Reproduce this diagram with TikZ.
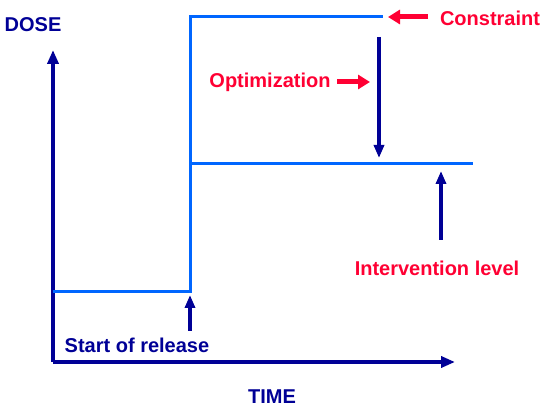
\documentclass[tikz,border=0pt]{standalone}
\usepackage{fontspec}
\setmainfont{Liberation Sans}
\usetikzlibrary{arrows.meta}
\definecolor{navy}{RGB}{0,0,150}
\definecolor{lightblue}{RGB}{0,102,255}
\definecolor{alarm}{RGB}{255,0,51}
\begin{document}
\begin{tikzpicture}[
    x=1pt, y=-1pt,
    lbl/.style={font=\fontsize{20}{22}\selectfont\bfseries, inner sep=0pt},
    axis/.style={navy, line width=4pt, -{Triangle[length=14pt, width=11pt]}},
    level/.style={lightblue, line width=3pt},
    marker/.style={navy, line width=3.5pt, -{Triangle[length=13pt, width=10pt]}},
    pointer/.style={alarm, line width=5pt, -{Triangle[length=12pt, width=14pt]}}
]
    \useasboundingbox (0,0) rectangle (541,411);

    % Axes
    \coordinate (origin) at (53,362);
    \coordinate (ytip) at (53,50);
    \coordinate (xtip) at (455,362);
    \draw[axis] (origin) -- (ytip);
    \draw[axis] (origin) -- (xtip);
    \node[lbl, navy] (dose) at (33,25) {DOSE};
    \node[lbl, navy] (time) at (272,397) {TIME};

    % Dose levels
    \coordinate (pre) at (53,292);
    \coordinate (release) at (190,292);
    \coordinate (peak) at (190,17);
    \coordinate (cap) at (383,17);
    \coordinate (step) at (190,164);
    \coordinate (lvlend) at (473,164);
    \draw[level] (pre) -- (release) -- (peak) -- (cap);
    \draw[level] (step) -- (lvlend);

    % Labels
    \node[lbl, navy] (srel) at (137,345) {Start of release};
    \node[lbl, alarm] (cons) at (490,18) {Constraint};
    \node[lbl, alarm] (optim) at (270,82) {Optimization};
    \node[lbl, alarm] (interv) at (437,268) {Intervention level};

    % Arrows
    \coordinate (srelfoot) at (190,331);
    \coordinate (srelhead) at (190,295);
    \draw[marker] (srelfoot) -- (srelhead);

    \coordinate (consfoot) at (428,17);
    \coordinate (conshead) at (388,17);
    \draw[pointer] (consfoot) -- (conshead);

    \coordinate (optfoot) at (337,82);
    \coordinate (opthead) at (370,82);
    \draw[pointer] (optfoot) -- (opthead);

    \coordinate (downtop) at (379,37);
    \coordinate (downtip) at (379,158);
    \draw[marker] (downtop) -- (downtip);

    \coordinate (upfoot) at (441,240);
    \coordinate (uptip) at (441,171);
    \draw[marker] (upfoot) -- (uptip);
\end{tikzpicture}
\end{document}
